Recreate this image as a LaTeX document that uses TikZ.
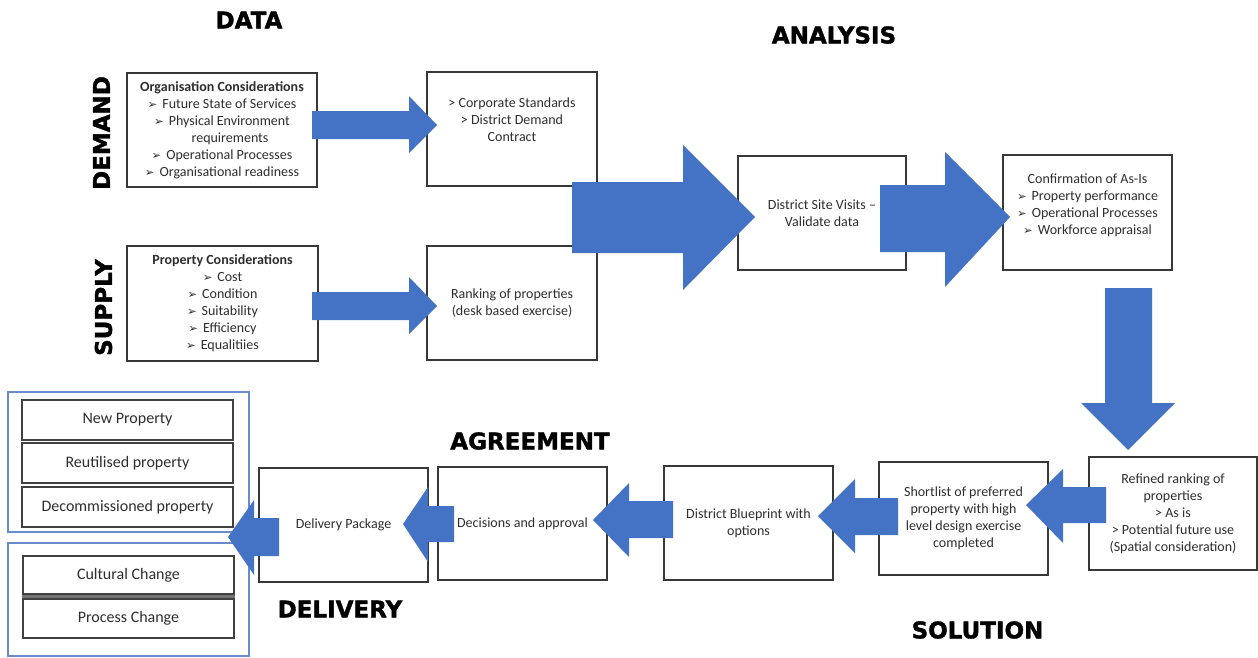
\documentclass[tikz,border=0pt]{standalone}
\usepackage{fontspec}
\setmainfont{Carlito}
\newfontfamily\hdfont{DejaVu Sans}[BoldFeatures={FakeBold=1.6}]
\newfontfamily\dvfont{DejaVu Sans}
\newcommand\bul{{\dvfont\fontsize{11.5}{11.5}\selectfont ➢}\hspace{5pt}}
\definecolor{arrowblue}{HTML}{4472C4}
\definecolor{frameblue}{HTML}{6A8BCB}
\tikzset{
  box/.style={draw=black!78, line width=1.6pt, fill=white, inner sep=0pt, align=center,
    font=\fontsize{14}{17}\selectfont, text=black!82},
  txt/.style={align=center, font=\fontsize{14}{17}\selectfont, text=black!82, inner sep=0pt},
  head/.style={font=\hdfont\bfseries\fontsize{23}{23}\selectfont, inner sep=0pt},
  blk/.style={fill=arrowblue},
  grpframe/.style={draw=frameblue, line width=1.4pt, inner sep=0pt},
  itembox/.style={draw=black!75, line width=1.6pt, fill=white, inner sep=0pt,
    font=\fontsize{16}{19}\selectfont, text=black!82},
}
\begin{document}
\begin{tikzpicture}[x=1pt,y=-1pt]
\useasboundingbox (0,0) rectangle (1258,657);
\fill[white] (0,0) rectangle (1258,657);

% headings
\node[head] (hdata) at (249,20) {DATA};
\node[head] (hanalysis) at (834,35) {ANALYSIS};
\node[head, rotate=90] (hdemand) at (101.5,133) {DEMAND};
\node[head, rotate=90] (hsupply) at (103.5,307.5) {SUPPLY};
\node[head] (hagree) at (530,441) {AGREEMENT};
\node[head] (hdeliv) at (340,609) {DELIVERY};
\node[head] (hsol) at (977.5,630) {SOLUTION};

% data boxes
\node[box, minimum width=190pt, minimum height=114pt] (org) at (222,130)
  {{\bfseries Organisation Considerations}\\ \bul Future State of Services\\
   \bul Physical Environment\\ \hspace*{16pt}requirements\\ \bul Operational Processes\\
   \bul Organisational readiness};
\node[box, minimum width=170pt, minimum height=114pt] (corp) at (512,129) {};
\node[txt] (corptxt) at (512,120) {> Corporate Standards\\ > District Demand\\ Contract};
\node[box, minimum width=191pt, minimum height=115pt] (prop) at (222.5,303.5)
  {{\bfseries Property Considerations}\\ \bul Cost\\ \bul Condition\\ \bul Suitability\\
   \bul Efficiency\\ \bul Equalitiies};
\node[box, minimum width=170pt, minimum height=114pt] (rank) at (512,303)
  {Ranking of properties\\ (desk based exercise)};

% analysis
\node[box, minimum width=168pt, minimum height=114pt] (site) at (822,213)
  {District Site Visits --\\ Validate data};
\node[box, minimum width=169pt, minimum height=115pt] (conf) at (1087.5,212.5) {};
\node[txt] (conftxt) at (1087.5,205.5)
  {Confirmation of As-Is\\ \bul Property performance\\ \bul Operational Processes\\
   \bul Workforce appraisal};

% solution
\node[box, minimum width=168pt, minimum height=113pt] (refined) at (1173,513.5)
  {Refined ranking of\\ properties\\ > As is\\ > Potential future use\\ (Spatial consideration)};
\node[box, minimum width=169pt, minimum height=113pt] (short) at (963.5,518.5)
  {Shortlist of preferred\\ property with high\\ level design exercise\\ completed};
\node[box, minimum width=169pt, minimum height=114pt] (blueprint) at (748.5,523)
  {District Blueprint with\\ options};
\node[box, minimum width=169pt, minimum height=113pt] (decis) at (522.5,523.5)
  {Decisions and approval};
\node[box, minimum width=169pt, minimum height=114pt] (deliv) at (343.5,525)
  {Delivery Package};

% delivery outcome groups
\node[grpframe, minimum width=241pt, minimum height=140pt] (grpa) at (128.5,462) {};
\node[grpframe, minimum width=241pt, minimum height=113pt] (grpb) at (128.5,599.5) {};
\node[itembox, minimum width=211pt, minimum height=40pt] (newp) at (127.5,420) {New Property};
\node[itembox, minimum width=211pt, minimum height=40pt] (reut) at (127.5,463) {Reutilised property};
\node[itembox, minimum width=211pt, minimum height=40pt] (decom) at (127.5,507) {Decommissioned property};
\node[itembox, minimum width=211pt, minimum height=38pt] (cult) at (128.5,575) {Cultural Change};
\node[itembox, minimum width=211pt, minimum height=39pt] (proc) at (128.5,618.5) {Process Change};
\fill[black!55] (cult.south west) rectangle (proc.north east);

% block arrows
\fill[blk] (312,111) -- (409,111) -- (409,96) -- (437,125) -- (409,153) -- (409,139) -- (312,139) -- cycle;
\fill[blk] (312,292) -- (409,292) -- (409,277) -- (437,306) -- (409,334) -- (409,320) -- (312,320) -- cycle;
\fill[blk] (572,182) -- (683,182) -- (683,145) -- (755,217) -- (683,290) -- (683,253) -- (572,253) -- cycle;
\fill[blk] (880,185) -- (945,185) -- (945,152) -- (1010,217) -- (945,287) -- (945,252) -- (880,252) -- cycle;
\fill[blk] (1105,288) -- (1152,288) -- (1152,403) -- (1175,403) -- (1128,450) -- (1081,403) -- (1105,403) -- cycle;
\fill[blk] (1106,487) -- (1063,487) -- (1063,469) -- (1026,505) -- (1063,543) -- (1063,523) -- (1106,523) -- cycle;
\fill[blk] (898,498) -- (855,498) -- (855,479) -- (818,516) -- (855,553) -- (855,535) -- (898,535) -- cycle;
\fill[blk] (673,501) -- (629,501) -- (629,483) -- (593,520) -- (629,557) -- (629,538) -- (673,538) -- cycle;
\fill[blk] (454,506) -- (428,506) -- (428,487) -- (403,524) -- (428,562) -- (428,542) -- (454,542) -- cycle;
\fill[blk] (279,518) -- (254,518) -- (254,500) -- (228,537) -- (254,575) -- (254,556) -- (279,556) -- cycle;
\end{tikzpicture}
\end{document}
